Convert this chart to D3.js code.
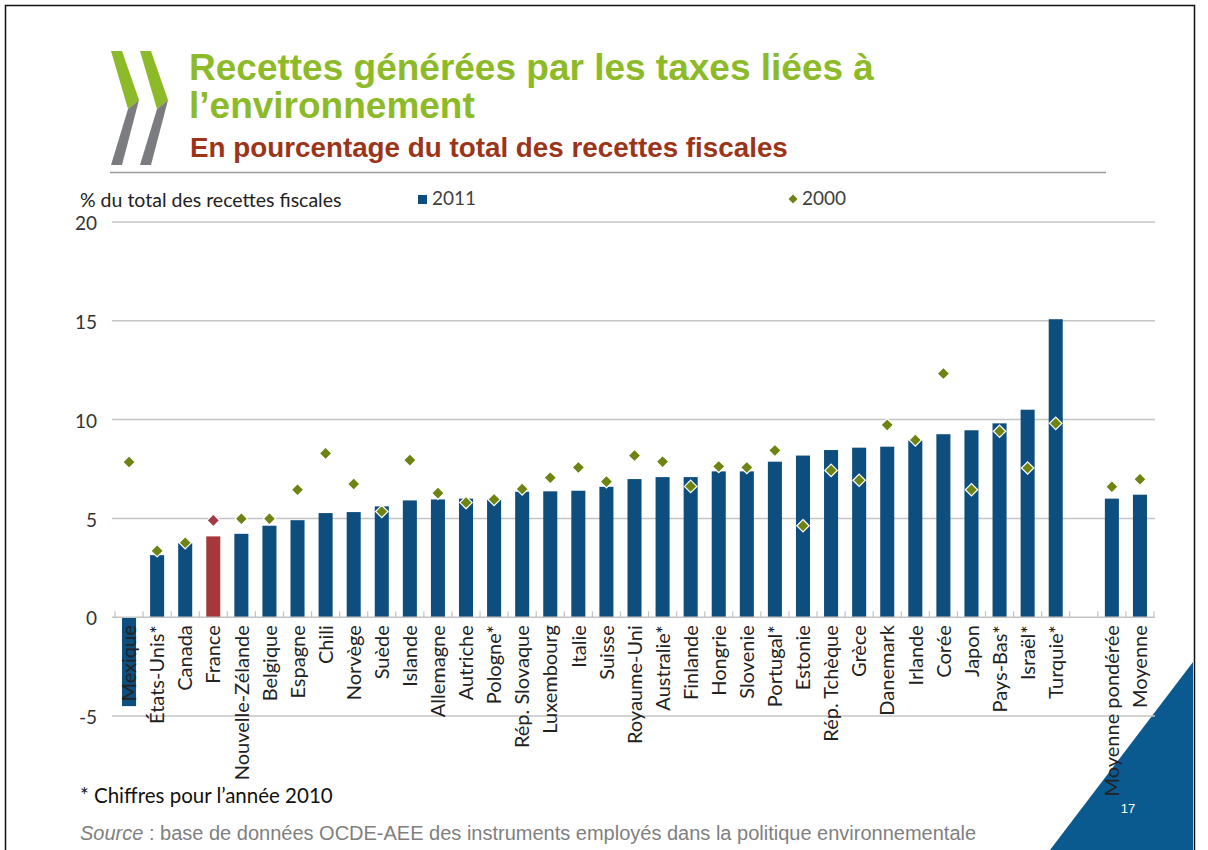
<!DOCTYPE html>
<html>
<head>
<meta charset="utf-8">
<script src="https://cdn.jsdelivr.net/npm/d3@7/dist/d3.min.js"></script>
<style>
  html, body { margin: 0; padding: 0; background: #fff; }
  svg { display: block; }
</style>
</head>
<body>
<svg id="chart" width="1208" height="850"></svg>
<script>
// Environmental tax revenue, % of total tax revenue
const countries = ["Mexique","États-Unis*","Canada","France","Nouvelle-Zélande","Belgique","Espagne","Chili","Norvège","Suède","Islande","Allemagne","Autriche","Pologne*","Rép. Slovaque","Luxembourg","Italie","Suisse","Royaume-Uni","Australie*","Finlande","Hongrie","Slovenie","Portugal*","Estonie","Rép. Tchèque","Grèce","Danemark","Irlande","Corée","Japon","Pays-Bas*","Israël*","Turquie*"];
const values2011 = [-4.5, 3.14, 3.75, 4.09, 4.22, 4.63, 4.91, 5.27, 5.32, 5.61, 5.91, 5.96, 6.0, 5.95, 6.35, 6.37, 6.40, 6.6, 6.99, 7.09, 7.09, 7.38, 7.38, 7.87, 8.18, 8.46, 8.58, 8.63, 8.95, 9.26, 9.46, 9.81, 10.5, 15.08];
const values2000 = [7.85, 3.36, 3.77, 4.9, 4.98, 4.98, 6.45, 8.29, 6.74, 5.35, 7.95, 6.28, 5.8, 5.96, 6.49, 7.06, 7.58, 6.86, 8.18, 7.87, 6.62, 7.63, 7.58, 8.44, 4.63, 7.43, 6.93, 9.73, 8.97, 12.33, 6.45, 9.41, 7.55, 9.81];

const averages = ["Moyenne pondérée", "Moyenne"];
const avg2011 = [6.0, 6.2];
const avg2000 = [6.6, 6.98];

const highlighted = "France";
const yTicks = [-5, 0, 5, 10, 15, 20];
const seriesNames = ["2011", "2000"];

const svg = d3.select("#chart");

const C = {
  bar: "#0d4e7e",
  barHi: "#a5383a",
  dot: "#6e8412",
  dotHi: "#a33a45",
  grid: "#c4c4c4",
  green: "#8dba28",
  red: "#9c3419",
  gray: "#7f7f7f",
  corner: "#0a5a90"
};

// slide frame
svg.append("rect").attr("x", 5.5).attr("y", 5.5).attr("width", 1189).attr("height", 870)
  .attr("fill", "none").attr("stroke", "#111").attr("stroke-width", 1.5);

// corner triangle
svg.append("path").attr("d", "M1193,662 L1193,850 L1050,850 Z").attr("fill", C.corner);
svg.append("text").attr("x", 1128).attr("y", 813).attr("text-anchor", "middle")
  .attr("font-family", "Liberation Sans, Arial, sans-serif").attr("font-size", 13)
  .attr("fill", "#fff").text("17");

// logo chevrons
function chevron(x0) {
  const top = 51, bottom = 165, mid = 100, w = 11, d = 17;
  svg.append("path")
    .attr("d", `M${x0},${top} L${x0 + w},${top} L${x0 + w + d},${mid} L${x0 + d},${mid + 9} Z`)
    .attr("fill", C.green);
  svg.append("path")
    .attr("d", `M${x0 + d},${mid + 9} L${x0 + w + d},${mid} L${x0 + w},${bottom} L${x0},${bottom} Z`)
    .attr("fill", "#7a7c80");
}
chevron(111);
chevron(140);

// titles
const titleFont = "Liberation Sans, Arial, sans-serif";
svg.append("text").attr("x", 189).attr("y", 80).attr("font-family", titleFont)
  .attr("font-weight", "bold").attr("font-size", 37).attr("fill", C.green)
  .text("Recettes générées par les taxes liées à");
svg.append("text").attr("x", 189).attr("y", 118).attr("font-family", titleFont)
  .attr("font-weight", "bold").attr("font-size", 37).attr("fill", C.green)
  .text("l’environnement");
svg.append("text").attr("x", 190).attr("y", 157).attr("font-family", titleFont)
  .attr("font-weight", "bold").attr("font-size", 27.8).attr("fill", C.red)
  .text("En pourcentage du total des recettes fiscales");
svg.append("line").attr("x1", 110).attr("x2", 1106).attr("y1", 172.5).attr("y2", 172.5)
  .attr("stroke", "#9a9a9a").attr("stroke-width", 1.5);

// scales
const labelFont = "Lato, 'Open Sans', sans-serif";
const domain = countries.concat(["__gap__"], averages);
const x = d3.scaleBand().domain(domain).range([115, 1154]).paddingInner(0.5).paddingOuter(0.25);
const y = d3.scaleLinear().domain([-5, 20]).range([716, 222]);

// gridlines
svg.append("g").selectAll("line").data(yTicks.filter(t => t !== 0)).join("line")
  .attr("x1", 112).attr("x2", 1155)
  .attr("y1", d => y(d)).attr("y2", d => y(d))
  .attr("stroke", C.grid).attr("stroke-width", 1.5);

// y axis labels
const yAxis = d3.axisLeft(y).tickValues(yTicks).tickSize(0).tickPadding(0)
  .tickFormat(d => String(d));
const gy = svg.append("g").attr("transform", "translate(97,0)").call(yAxis);
gy.select(".domain").remove();
gy.selectAll("text").attr("font-family", labelFont).attr("font-size", 19)
  .attr("fill", "#333").attr("dy", "0.4em");

svg.append("text").attr("x", 80).attr("y", 207).attr("font-family", labelFont)
  .attr("font-size", 19.5).attr("fill", "#222").text("% du total des recettes fiscales");

// legend
svg.append("rect").attr("x", 418).attr("y", 195).attr("width", 9).attr("height", 9).attr("fill", C.bar);
svg.append("text").attr("x", 432).attr("y", 205).attr("font-family", labelFont)
  .attr("font-size", 19).attr("fill", "#404040").text(seriesNames[0]);
const diamond = r => `M0,${-r} L${r},0 L0,${r} L${-r},0 Z`;
svg.append("path").attr("d", diamond(4.5)).attr("transform", "translate(793,199)").attr("fill", C.dot);
svg.append("text").attr("x", 802).attr("y", 205).attr("font-family", labelFont)
  .attr("font-size", 19).attr("fill", "#404040").text(seriesNames[1]);

// rows
const rows = countries.map((c, i) => ({ name: c, v11: values2011[i], v00: values2000[i] }))
  .concat(averages.map((c, i) => ({ name: c, v11: avg2011[i], v00: avg2000[i] })));

// bars
svg.append("g").selectAll("rect").data(rows).join("rect")
  .attr("x", d => x(d.name)).attr("width", x.bandwidth())
  .attr("y", d => y(Math.max(0, d.v11)))
  .attr("height", d => Math.abs(y(d.v11) - y(0)))
  .attr("fill", d => d.name === highlighted ? C.barHi : C.bar);

// zero axis line with boundary ticks
svg.append("line").attr("x1", 112).attr("x2", 1155).attr("y1", y(0)).attr("y2", y(0))
  .attr("stroke", C.grid).attr("stroke-width", 1.5);
const boundaries = d3.range(domain.length + 1).map(i => x.range()[0] + i * x.step());
svg.append("g").selectAll("line").data(boundaries).join("line")
  .attr("x1", d => d).attr("x2", d => d).attr("y1", y(0) - 6).attr("y2", y(0))
  .attr("stroke", "#c9c0c6").attr("stroke-width", 1.2);

// 2000 markers
svg.append("g").selectAll("path").data(rows).join("path")
  .attr("d", diamond(6.2))
  .attr("transform", d => `translate(${x(d.name) + x.bandwidth() / 2},${y(d.v00)})`)
  .attr("fill", d => d.name === highlighted ? C.dotHi : C.dot)
  .attr("stroke", "#fff").attr("stroke-width", 1.2);

// category labels
svg.append("g").selectAll("text").data(rows).join("text")
  .attr("transform", d => `translate(${x(d.name) + x.bandwidth() / 2},${y(0) + 8}) rotate(-90)`)
  .attr("text-anchor", "end").attr("dy", "0.36em")
  .attr("font-family", labelFont).attr("font-size", 20).attr("fill", "#222")
  .text(d => d.name);

// notes
svg.append("text").attr("x", 80).attr("y", 803).attr("font-family", labelFont)
  .attr("font-size", 20.5).attr("fill", "#111").text("* Chiffres pour l’année 2010");
const src = svg.append("text").attr("x", 80).attr("y", 840).attr("font-family", titleFont)
  .attr("font-size", 20).attr("fill", C.gray);
src.append("tspan").attr("font-style", "italic").text("Source");
src.append("tspan").text(" : base de données OCDE-AEE des instruments employés dans la politique environnementale");
</script>
</body>
</html>
